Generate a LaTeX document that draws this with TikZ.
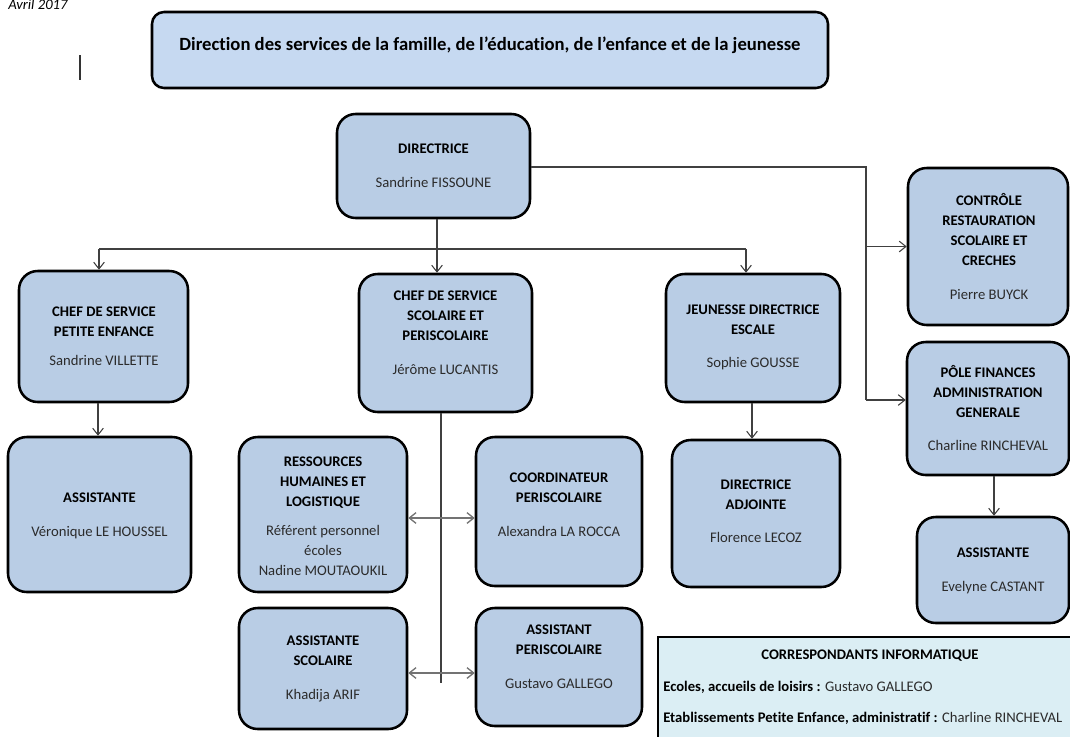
\documentclass[tikz,border=0pt]{standalone}
\usepackage{fontspec}
\setmainfont{Carlito}[Ligatures={NoCommon}]
\usetikzlibrary{arrows.meta,fit}
\definecolor{boxfill}{HTML}{B9CDE5}
\definecolor{titlefill}{HTML}{C6D9F1}
\definecolor{corrfill}{HTML}{DBEEF4}
\definecolor{linecol}{HTML}{404040}
\definecolor{namecol}{HTML}{2B2B2B}
\newcommand{\nmc}[1]{\textcolor{namecol}{#1}}
\begin{document}
\begin{tikzpicture}[x=0.75pt,y=-0.75pt,
  orgbox/.style={draw=black, line width=1.9pt, fill=boxfill, rounded corners=14pt, inner sep=0pt},
  titlebox/.style={draw=black, line width=1.9pt, fill=titlefill, rounded corners=9pt, inner sep=0pt},
  corrbox/.style={draw=black, line width=1.9pt, fill=corrfill, inner sep=0pt},
  txt/.style={align=center, inner sep=0pt, anchor=north, font=\fontsize{11}{15}\selectfont},
  conn/.style={draw=linecol, line width=0.8pt},
  arr/.style={conn, -{Straight Barb[length=5pt,width=8pt]}},
  darr/.style={draw=black!55, line width=1pt, {Straight Barb[length=5pt,width=8pt]}-{Straight Barb[length=5pt,width=8pt]}}]
\useasboundingbox (0,0) rectangle (1070,736);

% header
\node[anchor=base west, inner sep=0pt, font=\fontsize{11}{13}\selectfont\itshape] (date) at (8,9) {Avril 2017};
\coordinate (c1) at (80,55);
\coordinate (c2) at (80,80);
\draw[line width=0.8pt, black!80] (c1) -- (c2);

\node[titlebox, fit={(152,12) (828,88)}] (title) {};
\node[inner sep=0pt, font=\fontsize{14}{17}\selectfont\bfseries] (title-t) at (490,45) {Direction des services de la famille, de l’éducation, de l’enfance et de la jeunesse};

% boxes
\node[orgbox, fit={(337,114) (530,218)}] (dir) {};
\node[orgbox, fit={(19,271) (188,402)}] (pe) {};
\node[orgbox, fit={(8,437) (191,592)}] (ass1) {};
\node[orgbox, fit={(359,274) (532,412)}] (sco) {};
\node[orgbox, fit={(666,274) (840,402)}] (jeu) {};
\node[orgbox, fit={(672,440) (840,587)}] (adj) {};
\node[orgbox, fit={(908,168) (1068,325)}] (ctrl) {};
\node[orgbox, fit={(907,342) (1069,475)}] (pole) {};
\node[orgbox, fit={(917,517) (1069,623)}] (ass3) {};
\node[orgbox, fit={(239,437) (407,592)}] (rh) {};
\node[orgbox, fit={(476,437) (642,586)}] (coord) {};
\node[orgbox, fit={(239,608) (407,729)}] (assco) {};
\node[orgbox, fit={(476,608) (642,726)}] (assperi) {};
\node[corrbox, fit={(658,637) (1082,745)}] (corr) {};

% texts
\node[txt] (dir-t) at (433.5,143.3) {\textbf{DIRECTRICE}\\[10.5pt]\nmc{Sandrine FISSOUNE}};
\node[txt] (pe-t) at (104,306.3) {\textbf{CHEF DE SERVICE}\\\textbf{PETITE ENFANCE}\\[6.75pt]\nmc{Sandrine VILLETTE}};
\node[txt] (ass1-t) at (99.5,492.3) {\textbf{ASSISTANTE}\\[10.5pt]\nmc{Véronique LE HOUSSEL}};
\node[txt] (sco-t) at (445.5,290.3) {\textbf{CHEF DE SERVICE}\\\textbf{SCOLAIRE ET}\\\textbf{PERISCOLAIRE}\\[10.5pt]\nmc{Jérôme LUCANTIS}};
\node[txt] (jeu-t) at (753,304.3) {\textbf{JEUNESSE DIRECTRICE}\\\textbf{ESCALE}\\[9.75pt]\nmc{Sophie GOUSSE}};
\node[txt] (adj-t) at (756,479.3) {\textbf{DIRECTRICE}\\\textbf{ADJOINTE}\\[9.75pt]\nmc{Florence LECOZ}};
\node[txt] (ctrl-t) at (989,193.3) {\textbf{CONTRÔLE}\\\textbf{RESTAURATION}\\\textbf{SCOLAIRE ET}\\\textbf{CRECHES}\\[10.5pt]\nmc{Pierre BUYCK}};
\node[txt] (pole-t) at (988,365.3) {\textbf{PÔLE FINANCES}\\\textbf{ADMINISTRATION}\\\textbf{GENERALE}\\[9.75pt]\nmc{Charline RINCHEVAL}};
\node[txt] (ass3-t) at (993,547.3) {\textbf{ASSISTANTE}\\[10.5pt]\nmc{Evelyne CASTANT}};
\node[txt] (rh-t) at (323,456.3) {\textbf{RESSOURCES}\\\textbf{HUMAINES ET}\\\textbf{LOGISTIQUE}\\[6.75pt]\nmc{Référent personnel}\\\nmc{écoles}\\\nmc{Nadine MOUTAOUKIL}};
\node[txt] (coord-t) at (559,472.3) {\textbf{COORDINATEUR}\\\textbf{PERISCOLAIRE}\\[10.5pt]\nmc{Alexandra LA ROCCA}};
\node[txt] (assco-t) at (323,635.3) {\textbf{ASSISTANTE}\\\textbf{SCOLAIRE}\\[10.5pt]\nmc{Khadija ARIF}};
\node[txt] (assperi-t) at (559,624.3) {\textbf{ASSISTANT}\\\textbf{PERISCOLAIRE}\\[10.5pt]\nmc{Gustavo GALLEGO}};
\node[txt] (corr-t) at (870,649.3) {\textbf{CORRESPONDANTS INFORMATIQUE}};
\node[anchor=west, inner sep=0pt, font=\fontsize{11}{15}\selectfont] (corr-a) at (663,687) {\textbf{Ecoles, accueils de loisirs :} \nmc{Gustavo GALLEGO}};
\node[anchor=west, inner sep=0pt, font=\fontsize{11}{15}\selectfont] (corr-b) at (663,718) {\textbf{Etablissements Petite Enfance, administratif :} \nmc{Charline RINCHEVAL}};

% connectors
\coordinate (jn) at (437,249);
\coordinate (bl) at (99,249);
\coordinate (br) at (746,249);
\draw[arr] (dir.south -| jn) -- (jn |- sco.north);
\draw[conn] (bl) -- (br);
\draw[arr] (bl) -- (bl |- pe.north);
\draw[arr] (br) -- (br |- jeu.north);

\coordinate (rv) at (866,167);
\coordinate (rb) at (866,400);
\draw[conn] (dir.east |- rv) -- (rv) -- (rb);
\draw[arr] (rv |- ctrl.west) -- (ctrl.west);
\draw[arr] (rb) -- (rb -| pole.west);

\coordinate (a1) at (98,0);
\draw[arr] (pe.south -| a1) -- (a1 |- ass1.north);
\coordinate (a2) at (752,0);
\draw[arr] (jeu.south -| a2) -- (a2 |- adj.north);
\coordinate (a3) at (994,0);
\draw[arr] (pole.south -| a3) -- (a3 |- ass3.north);

\coordinate (sv) at (441,683);
\draw[conn] (sco.south -| sv) -- (sv);
\coordinate (d1) at (441,518);
\coordinate (d2) at (441,673);
\draw[darr] (rh.east |- d1) -- (coord.west |- d1);
\draw[darr] (assco.east |- d2) -- (assperi.west |- d2);
\end{tikzpicture}
\end{document}
